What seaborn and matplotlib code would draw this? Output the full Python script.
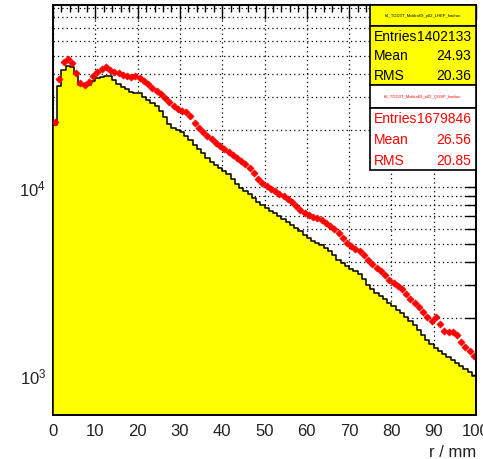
import matplotlib
matplotlib.use("Agg")
import matplotlib.pyplot as plt
from matplotlib.patches import Rectangle
from matplotlib.ticker import LogLocator, NullFormatter, MultipleLocator
import seaborn as sns
import pandas as pd

# 1 mm bins, 0..100
bin_edges = list(range(0, 101))

black_counts = [21400, 34400, 41900, 44000, 43500, 39900, 34900, 34600, 34900, 36600,
                37900, 38500, 38900, 38900, 37000, 35300, 34000, 33200, 32000, 31800,
                31600, 30110, 29020, 27980, 26970, 25370, 23570, 21630, 20600, 20100,
                19610, 18670, 17780, 16730, 15930, 15160, 14270, 13580, 13090, 12620,
                12160, 11720, 11030, 10370, 9880, 9520, 9180, 8740, 8320, 8020,
                7730, 7450, 7270, 7010, 6760, 6520, 6280, 6050, 5830, 5560,
                5360, 5160, 5040, 4910, 4740, 4570, 4350, 4090, 3940, 3800,
                3660, 3570, 3450, 3240, 3010, 2870, 2730, 2630, 2540, 2420,
                2330, 2220, 2140, 2040, 1940, 1850, 1740, 1630, 1540, 1460,
                1390, 1340, 1290, 1250, 1200, 1160, 1120, 1080, 1040, 990]

red_counts = [22170, 37540, 46230, 47960, 45670, 40410, 35740, 34880, 36180, 38950,
              40900, 42430, 43480, 41920, 40900, 40410, 39430, 38950, 38480, 38950,
              38010, 36630, 35310, 33620, 32410, 31240, 29740, 28320, 26970, 25990,
              25370, 25060, 23860, 21900, 20600, 19610, 18670, 18000, 17140, 16520,
              15930, 15350, 14800, 14270, 13750, 13260, 12620, 11870, 11030, 10500,
              10120, 9760, 9520, 9180, 8960, 8630, 8320, 7920, 7540, 7270,
              7100, 6930, 6840, 6680, 6440, 6210, 5980, 5690, 5360, 5040,
              4860, 4680, 4570, 4350, 4090, 3890, 3710, 3570, 3400, 3200,
              3090, 2970, 2870, 2700, 2540, 2420, 2300, 2160, 2040, 1940,
              2040, 1870, 1710, 1690, 1690, 1630, 1500, 1410, 1340, 1260]

stat_names = ["Entries", "Mean", "RMS"]
stats_black = ["1402133", "24.93", "20.36"]
stats_red = ["1679846", "26.56", "20.85"]
title_black = "h1_TDD3T_Mokka69_p02_LHEP_hadron"
title_red = "h2_TDD3T_Mokka69_p02_QGSP_hadron"

df = pd.DataFrame({"r": [e + 0.5 for e in bin_edges[:-1]],
                   "black": black_counts,
                   "red": red_counts})

sns.set_style("white")
plt.rcParams['font.family'] = ['Liberation Sans', 'DejaVu Sans']

W, H = 483, 460
fig = plt.figure(figsize=(W / 100, H / 100), dpi=100)
ax = fig.add_axes([53 / W, 44 / H, 423 / W, 410 / H])
ax.set_axisbelow(True)

sns.histplot(data=df, x="r", weights="black", bins=bin_edges, element="step",
             fill=True, color="#ffff00", alpha=1, edgecolor="black", linewidth=1.1,
             ax=ax, zorder=1)
sns.scatterplot(data=df, x="r", y="red", color="red", marker="D", s=13,
                linewidth=0.5, edgecolor="red", ax=ax, zorder=3, legend=False)

ax.set_yscale("log")
ax.set_xlim(0, 100)
ax.set_ylim(613, 92900)

ax.xaxis.set_major_locator(MultipleLocator(10))
ax.xaxis.set_minor_locator(MultipleLocator(2))
ax.yaxis.set_major_locator(LogLocator(base=10))
ax.yaxis.set_minor_locator(LogLocator(base=10, subs=range(2, 10)))
ax.yaxis.set_minor_formatter(NullFormatter())

ax.tick_params(which="both", direction="in", top=True, right=True,
               color="black", labelsize=12, labelcolor="#222222")
ax.tick_params(axis="x", which="major", length=10, width=1, pad=6)
ax.tick_params(axis="x", which="minor", length=5, width=1)
ax.tick_params(axis="y", which="both", length=8, width=1, pad=5)

ax.xaxis.grid(True, which="major", color="black", linestyle=(0, (1, 2.5)), linewidth=0.9)
ax.yaxis.grid(True, which="both", color="black", linestyle=(0, (1, 2.5)), linewidth=0.9)

for side in ["top", "right", "bottom"]:
    ax.spines[side].set_linewidth(1.4)
    ax.spines[side].set_color("black")
    ax.spines[side].set_zorder(4)
ax.spines["left"].set_linewidth(1.4)
ax.spines["left"].set_color("black")
ax.spines["left"].set_zorder(0.5)

ax.set_ylabel("")
ax.set_xlabel("r / mm", fontsize=12, color="#222222", ha="right")
ax.xaxis.set_label_coords(1.0, -0.07)


def fx(px):
    return px / W


def fy(py):
    return 1 - py / H


def stat_box(top, sep, bottom, face, tcolor, title, values):
    fig.add_artist(Rectangle((fx(370), fy(sep)), fx(476) - fx(370), fy(top) - fy(sep),
                             transform=fig.transFigure, facecolor=face,
                             edgecolor="black", linewidth=1.2, zorder=5))
    fig.add_artist(Rectangle((fx(370), fy(bottom)), fx(476) - fx(370), fy(sep) - fy(bottom),
                             transform=fig.transFigure, facecolor=face,
                             edgecolor="black", linewidth=1.2, zorder=5))
    fig.text(fx(423), fy((top + sep) / 2), title, fontsize=3, color=tcolor,
             ha="center", va="center", zorder=6)
    row_h = (bottom - sep) / 3
    for k, (name, val) in enumerate(zip(stat_names, values)):
        yc = sep + row_h * (k + 0.5)
        fig.text(fx(374), fy(yc), name, fontsize=10, color=tcolor,
                 ha="left", va="center", zorder=6)
        fig.text(fx(471), fy(yc), val, fontsize=10, color=tcolor,
                 ha="right", va="center", zorder=6)


stat_box(6, 27, 86, "#ffff00", "black", title_black, stats_black)
stat_box(86, 109, 171, "white", "red", title_red, stats_red)

fig.savefig("out.png", dpi=100)
plt.close("all")
